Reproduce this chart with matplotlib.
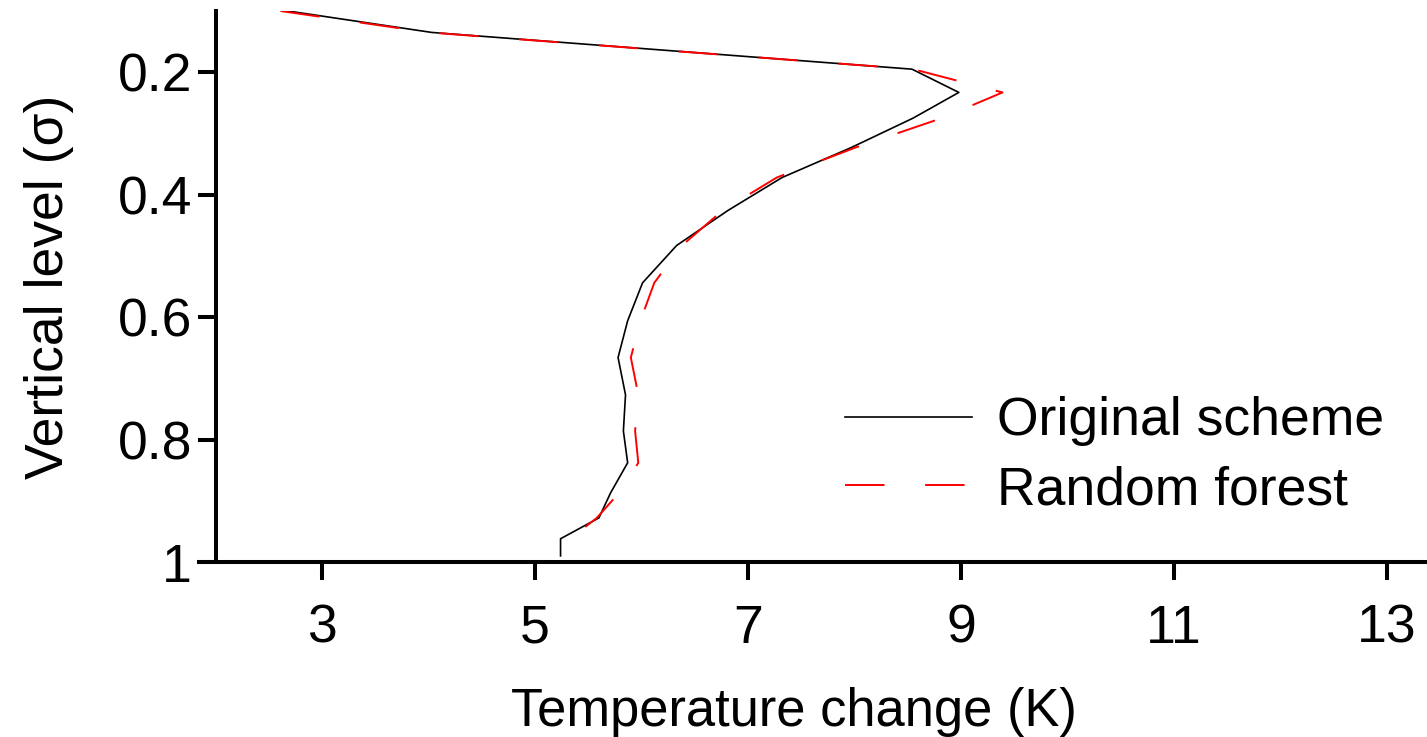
import matplotlib
matplotlib.use("Agg")
import matplotlib.pyplot as plt

plt.rcParams['font.family'] = ['Liberation Sans', 'DejaVu Sans']

# sigma levels
sigma_orig = [0.100, 0.135, 0.195, 0.233, 0.275, 0.323, 0.372, 0.426, 0.483, 0.544,
              0.606, 0.666, 0.727, 0.786, 0.838, 0.887, 0.928, 0.962, 0.990]
dT_orig = [2.68, 4.03, 8.54, 8.98, 8.55, 7.97, 7.32, 6.81, 6.33, 6.01,
           5.87, 5.78, 5.85, 5.83, 5.87, 5.71, 5.60, 5.24, 5.24]

sigma_rf = [0.100, 0.135, 0.195, 0.233, 0.275, 0.323, 0.372, 0.426, 0.483, 0.544,
            0.606, 0.666, 0.727, 0.786, 0.838, 0.887, 0.928, 0.962, 0.990]
dT_rf = [2.61, 4.00, 8.55, 9.39, 8.82, 8.01, 7.27, 6.76, 6.38, 6.12,
         5.99, 5.90, 5.97, 5.94, 5.97, 5.79, 5.58, 5.33, 5.35]

xticks = [3, 5, 7, 9, 11, 13]
yticks = [0.2, 0.4, 0.6, 0.8, 1.0]
ytick_labels = ["0.2", "0.4", "0.6", "0.8", "1"]

fs = 38.5

fig = plt.figure(figsize=(14.27, 7.37), dpi=100)
ax = fig.add_axes([199/1427, 1 - 562/737, 1 - 199/1427, (562 - 11)/737])

ax.plot(dT_orig, sigma_orig, color='black', lw=1.2, label='Original scheme')
ax.plot(dT_rf, sigma_rf, color='red', lw=1.4, dashes=(20.3, 20.9), label='Random forest')

ax.set_xlim(1.845, 13.376)
ax.set_ylim(1.0, 0.1)
ax.set_xticks(xticks)
ax.set_yticks(yticks)
ax.set_yticklabels(ytick_labels)

ax.spines['top'].set_visible(False)
ax.spines['right'].set_visible(False)
ax.spines['left'].set_position(('data', 2.0))
for s in ('left', 'bottom'):
    ax.spines[s].set_linewidth(2.9)
ax.tick_params(width=2.9, length=13, labelsize=fs)
ax.tick_params(axis='y', pad=4)
ax.tick_params(axis='x', pad=17)

ax.set_xlabel('Temperature change (K)', fontsize=37.8, labelpad=24)
ax.xaxis.label.set_x(0.4845)
ax.set_ylabel('Vertical level (σ)', fontsize=fs, labelpad=31)

ax.legend(loc='center left', bbox_to_anchor=(0.526, 0.193), frameon=False, fontsize=fs,
          handlelength=2.37, handletextpad=0.47, labelspacing=0.35, borderpad=0,
          borderaxespad=0)

fig.savefig('out.png', dpi=100)
